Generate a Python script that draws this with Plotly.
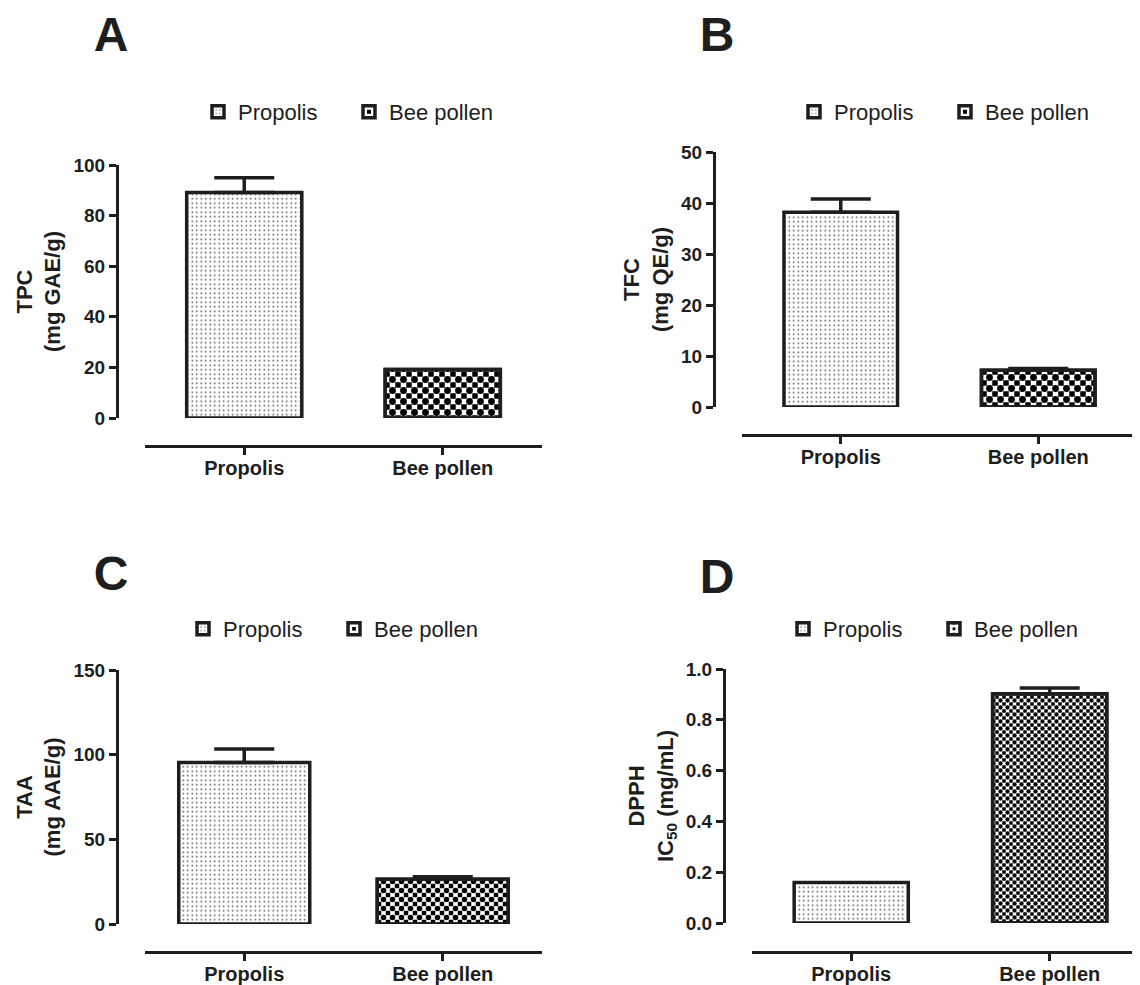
import plotly.graph_objects as go

# page is offset by the default 8px body margin; size the figure to fit the window
OFF = 8
W, H = 1140 - OFF, 985 - OFF

categories = ["Propolis", "Bee pollen"]

tpc_mean = [89.1, 19.2]
tpc_sd = [5.9, 0.0]
tfc_mean = [38.2, 7.2]
tfc_sd = [2.6, 0.35]
taa_mean = [95.4, 26.4]
taa_sd = [8.0, 1.5]
dpph_mean = [0.159, 0.903]
dpph_sd = [0.0, 0.022]

panel_letters = ["A", "B", "C", "D"]
y_titles = ["TPC<br>(mg GAE/g)", "TFC<br>(mg QE/g)", "TAA<br>(mg AAE/g)",
            "DPPH<br>IC<sub>50</sub> (mg/mL)"]
y_ranges = [[0, 100], [0, 50], [0, 150], [0, 1.0]]
y_dticks = [20, 10, 50, 0.2]
y_formats = ["d", "d", "d", ".1f"]

means = [tpc_mean, tfc_mean, taa_mean, dpph_mean]
sds = [tpc_sd, tfc_sd, taa_sd, dpph_sd]

# geometry in window pixels; xr = x-axis range end
geo = [
    dict(xdom=(145, 542), xr=1.5, yline=117, ydom=(418, 165), xline=446, bw=0.58,
         chk=11, leg=(198, 112), let=(111, 34)),
    dict(xdom=(742, 1137), xr=1.5, yline=714, ydom=(407, 152), xline=435, bw=0.575,
         chk=11, leg=(794, 112), let=(717, 34)),
    dict(xdom=(145, 542), xr=1.5, yline=117, ydom=(924, 670), xline=952, bw=0.66,
         chk=9, leg=(183, 629), let=(111, 573)),
    dict(xdom=(752, 1140), xr=1.455, yline=724, ydom=(923, 669), xline=952, bw=0.575,
         chk=7, leg=(783, 629), let=(717, 576)),
]

def px(x):
    return (x - OFF) / W

def py(y):
    return 1 - (y - OFF) / H

FONT = "Liberation Sans, Arial, Helvetica, sans-serif"
INK = "#1e1e1e"

fig = go.Figure()
layout = dict(
    width=W, height=H, margin=dict(l=0, r=0, t=0, b=0, autoexpand=False),
    paper_bgcolor="white", plot_bgcolor="white", barmode="overlay",
    font=dict(family=FONT, color=INK), annotations=[],
)

for i in range(4):
    g = geo[i]
    n = "" if i == 0 else str(i + 1)
    xa, ya = "x" + n, "y" + n
    leg = "legend" + n
    m, s = means[i], sds[i]

    # Propolis (dotted)
    fig.add_trace(go.Bar(
        x=[categories[0]], y=[m[0]], name=categories[0], xaxis=xa, yaxis=ya,
        width=g["bw"], legend=leg,
        marker=dict(color="white", line=dict(color=INK, width=3.5),
                    pattern=dict(shape=".", fgcolor="#444", bgcolor="white",
                                 size=4.5, solidity=0.1, fillmode="replace")),
        error_y=dict(type="data", symmetric=False, array=[s[0]], arrayminus=[0],
                     color=INK, thickness=3.5, width=30, visible=s[0] > 0),
    ))
    # Bee pollen (checkerboard: black squares + overlaid centre dots)
    fig.add_trace(go.Bar(
        x=[categories[1]], y=[m[1]], name=categories[1], xaxis=xa, yaxis=ya,
        width=g["bw"], legend=leg,
        marker=dict(color="black", line=dict(color=INK, width=3.5),
                    pattern=dict(shape="+", fgcolor="white", bgcolor="black",
                                 size=g["chk"], solidity=0.75, fillmode="replace")),
    ))
    fig.add_trace(go.Bar(
        x=[categories[1]], y=[m[1]], name=categories[1], xaxis=xa, yaxis=ya,
        width=g["bw"], legend=leg, showlegend=False,
        marker=dict(color="rgba(0,0,0,0)", line=dict(color=INK, width=3.5),
                    pattern=dict(shape=".", fgcolor="black", bgcolor="rgba(0,0,0,0)",
                                 size=g["chk"], solidity=0.3, fillmode="replace")),
        error_y=dict(type="data", symmetric=False, array=[s[1]], arrayminus=[0],
                     color=INK, thickness=3.5, width=30, visible=s[1] > 0),
    ))

    layout["xaxis" + n] = dict(
        domain=[px(g["xdom"][0]), min(1.0, px(g["xdom"][1]))], anchor="free",
        position=py(g["xline"]), type="category", range=[-0.5, g["xr"]],
        categoryorder="array", categoryarray=categories,
        showline=True, linewidth=3, linecolor=INK, ticks="outside",
        ticklen=7, tickwidth=3, tickcolor=INK, showgrid=False, zeroline=False,
        ticklabelstandoff=-4,
        tickfont=dict(family=FONT, size=20, color=INK, weight="bold"),
    )
    layout["yaxis" + n] = dict(
        domain=[py(g["ydom"][0]), py(g["ydom"][1])], anchor="free",
        position=px(g["yline"]), range=y_ranges[i], dtick=y_dticks[i], tick0=0,
        tickformat=y_formats[i],
        showline=True, linewidth=3, linecolor=INK, ticks="outside",
        ticklen=7, tickwidth=3, tickcolor=INK, showgrid=False, zeroline=False,
        tickfont=dict(family=FONT, size=19, color=INK, weight="bold"),
        title=dict(text=y_titles[i], standoff=5,
                   font=dict(family=FONT, size=22, color=INK, weight="bold")),
    )
    layout[leg] = dict(
        orientation="h", x=px(g["leg"][0]), y=py(g["leg"][1]),
        xanchor="left", yanchor="middle", bgcolor="rgba(0,0,0,0)",
        entrywidth=106,
        font=dict(family=FONT, size=22, color=INK),
    )
    layout["annotations"].append(dict(
        text="<b>%s</b>" % panel_letters[i], x=px(g["let"][0]), y=py(g["let"][1]),
        xref="paper", yref="paper", showarrow=False, xanchor="center",
        yanchor="middle", width=44, height=42, valign="middle", align="center",
        font=dict(family=FONT, size=48, color=INK),
    ))

fig.update_layout(**layout)
fig.write_html("out.html")
